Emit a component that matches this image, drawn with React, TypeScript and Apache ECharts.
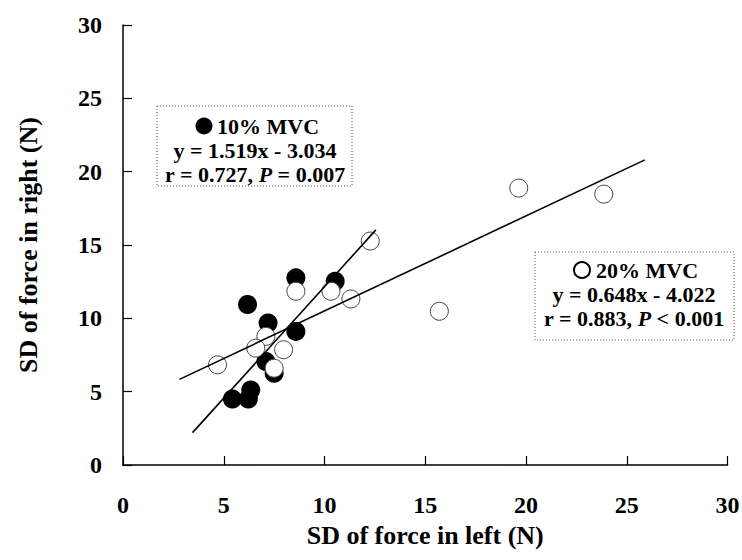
import React, { useEffect, useRef } from "react";
import * as echarts from "echarts";

const xTicks = [0, 5, 10, 15, 20, 25, 30];
const yTicks = [0, 5, 10, 15, 20, 25, 30];

// 10% MVC (filled circles): [left SD, right SD]
const mvc10Left = [8.58, 10.53, 6.18, 7.2, 8.58, 7.09, 7.5, 6.34, 5.43, 6.22];
const mvc10Right = [12.76, 12.53, 10.94, 9.68, 9.11, 7.05, 6.26, 5.11, 4.5, 4.5];

// 20% MVC (open circles)
const mvc20Left = [12.27, 8.58, 10.32, 11.31, 7.09, 4.69, 6.59, 7.97, 7.5, 15.7, 19.64, 23.86];
const mvc20Right = [15.27, 11.85, 11.85, 11.32, 8.77, 6.83, 7.97, 7.86, 6.6, 10.48, 18.88, 18.47];

// regression lines as drawn
const fit10 = { slope: 1.519, intercept: -3.034, xRange: [3.45, 12.55] };
const fit20 = { slope: 0.648, intercept: 4.022, xRange: [2.8, 25.9] };

const FONT = "'Liberation Serif', 'Times New Roman', serif";

export default function App() {
  const ref = useRef<HTMLDivElement>(null);
  useEffect(() => {
    if (!ref.current) return;
    const chart = echarts.init(ref.current, undefined, { renderer: "svg" });
    const pts = (xs: number[], ys: number[]) => xs.map((x, i) => [x, ys[i]]);
    const line = (f: { slope: number; intercept: number; xRange: number[] }) =>
      f.xRange.map((x) => [x, f.slope * x + f.intercept]);
    const LFS = 22;
    const textStyleBase = {
      fontFamily: FONT,
      fontWeight: "bold" as const,
      fontSize: LFS,
      fill: "#000",
    };
    const rich = {
      n: { fontFamily: FONT, fontWeight: "bold", fontSize: LFS, fill: "#000" },
      i: { fontFamily: FONT, fontWeight: "bold", fontStyle: "italic", fontSize: LFS, fill: "#000" },
    };
    chart.setOption({
      animation: false,
      backgroundColor: "#fff",
      grid: {
        left: 123,
        right: 14.5,
        top: 25,
        bottom: 95,
        containLabel: false,
        outerBoundsMode: "none",
      },
      xAxis: {
        type: "value",
        min: xTicks[0],
        max: xTicks[xTicks.length - 1],
        interval: 5,
        name: "SD of force in left (N)",
        nameLocation: "middle",
        nameGap: 57,
        nameTextStyle: { fontFamily: FONT, fontWeight: "bold", fontSize: 26, color: "#000" },
        axisLine: { show: true, lineStyle: { color: "#000", width: 1.5 } },
        axisTick: { show: true, inside: true, length: 9, lineStyle: { color: "#000", width: 1.2 } },
        axisLabel: { margin: 28, fontFamily: FONT, fontWeight: "bold", fontSize: 24, color: "#000" },
        splitLine: { show: false },
      },
      yAxis: {
        type: "value",
        min: yTicks[0],
        max: yTicks[yTicks.length - 1],
        interval: 5,
        name: "SD of force in right (N)",
        nameLocation: "middle",
        nameGap: 82,
        nameRotate: 90,
        nameTextStyle: { fontFamily: FONT, fontWeight: "bold", fontSize: 26, color: "#000" },
        axisLine: { show: true, lineStyle: { color: "#000", width: 1.5 } },
        axisTick: { show: true, inside: true, length: 9, lineStyle: { color: "#000", width: 1.2 } },
        axisLabel: { margin: 21, fontFamily: FONT, fontWeight: "bold", fontSize: 24, color: "#000" },
        splitLine: { show: false },
      },
      series: [
        {
          type: "scatter",
          name: "10% MVC",
          data: pts(mvc10Left, mvc10Right),
          symbol: "circle",
          symbolSize: 19,
          itemStyle: { color: "#000", borderColor: "#000", borderWidth: 0, opacity: 1 },
          z: 2,
        },
        {
          type: "scatter",
          name: "20% MVC",
          data: pts(mvc20Left, mvc20Right),
          symbol: "circle",
          symbolSize: 18,
          itemStyle: { color: "#fff", borderColor: "#444", borderWidth: 1, opacity: 1 },
          z: 3,
        },
        {
          type: "line",
          data: line(fit10),
          symbol: "none",
          lineStyle: { color: "#000", width: 1.6 },
          z: 4,
        },
        {
          type: "line",
          data: line(fit20),
          symbol: "none",
          lineStyle: { color: "#000", width: 1.6 },
          z: 4,
        },
      ],
      graphic: [
        {
          type: "rect",
          shape: { x: 157, y: 106, width: 195, height: 80 },
          style: { fill: "#fff", stroke: "#555", lineWidth: 1, lineDash: [1, 2] },
          z: 10,
        },
        { type: "circle", shape: { cx: 204, cy: 126, r: 8.5 }, style: { fill: "#000" }, z: 11 },
        {
          type: "text",
          x: 217,
          y: 126,
          style: { ...textStyleBase, text: "10% MVC", align: "left", verticalAlign: "middle" },
          z: 11,
        },
        {
          type: "text",
          x: 255,
          y: 150,
          style: { ...textStyleBase, text: "y = 1.519x - 3.034", align: "center", verticalAlign: "middle" },
          z: 11,
        },
        {
          type: "text",
          x: 255,
          y: 174,
          style: {
            ...textStyleBase,
            text: "{n|r = 0.727, }{i|P}{n| = 0.007}",
            align: "center",
            verticalAlign: "middle",
            rich,
          },
          z: 11,
        },
        {
          type: "rect",
          shape: { x: 535, y: 252, width: 199, height: 88 },
          style: { fill: "#fff", stroke: "#555", lineWidth: 1, lineDash: [1, 2] },
          z: 10,
        },
        {
          type: "circle",
          shape: { cx: 582, cy: 270, r: 8 },
          style: { fill: "#fff", stroke: "#000", lineWidth: 2 },
          z: 11,
        },
        {
          type: "text",
          x: 596,
          y: 270,
          style: { ...textStyleBase, text: "20% MVC", align: "left", verticalAlign: "middle" },
          z: 11,
        },
        {
          type: "text",
          x: 634,
          y: 294,
          style: { ...textStyleBase, text: "y = 0.648x - 4.022", align: "center", verticalAlign: "middle" },
          z: 11,
        },
        {
          type: "text",
          x: 634,
          y: 318,
          style: {
            ...textStyleBase,
            text: "{n|r = 0.883, }{i|P}{n| < 0.001}",
            align: "center",
            verticalAlign: "middle",
            rich,
          },
          z: 11,
        },
      ],
    });
    return () => chart.dispose();
  }, []);
  return <div ref={ref} style={{ width: 742, height: 560, position: "absolute", left: 0, top: 0 }} />;
}
